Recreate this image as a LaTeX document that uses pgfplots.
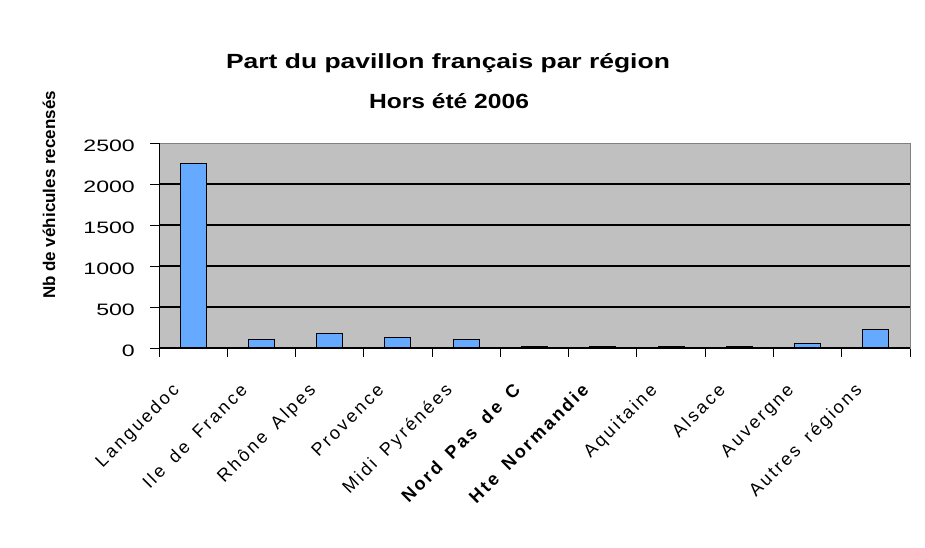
\documentclass[border=0pt]{standalone}
\usepackage{pgfplots}
\pgfplotsset{compat=1.18}
\usepackage{fontspec}
\setmainfont{Liberation Sans}
\newfontfamily\labelfont[LetterSpace=14,WordSpace=1.6]{Liberation Sans}
\definecolor{barblue}{RGB}{102,170,255}
\definecolor{plotbg}{RGB}{192,192,192}
\definecolor{frame}{RGB}{128,128,128}
\begin{document}
\begin{tikzpicture}
\path[use as bounding box] (0pt,0pt) rectangle (925pt,547pt);
\node[font=\bfseries\fontsize{20.5}{24}\selectfont] at (448pt,484pt) {\scalebox{1.29}[1]{Part du pavillon français par région}};
\node[font=\bfseries\fontsize{20.5}{24}\selectfont] at (449pt,446pt) {\scalebox{1.2}[1]{Hors été 2006}};
\node[font=\bfseries\fontsize{17}{20}\selectfont, rotate=90] at (49pt,352pt) {Nb de véhicules recensés};
\begin{axis}[
  at={(159pt,199pt)}, anchor=south west,
  width=751pt, height=205pt, scale only axis,
  xmin=0, xmax=11, ymin=0, ymax=2500,
  axis background/.style={fill=plotbg},
  axis line style={draw=frame, line width=1pt},
  xtick={0,1,2,3,4,5,6,7,8,9,10,11},
  x tick label as interval,
  xticklabels={Languedoc, Ile de France, Rhône Alpes, Provence, Midi Pyrénées, \bfseries Nord Pas de C, \bfseries Hte Normandie, Aquitaine, Alsace, Auvergne, Autres régions},
  xticklabel style={font=\labelfont\fontsize{18}{21}\selectfont, xshift=-13pt, yshift=-34pt, rotate=45, anchor=base east, inner sep=0pt},
  ytick={0,500,1000,1500,2000,2500},
  minor ytick={500,1000,1500,2000},
  yminorgrids, minor grid style={black, line width=1.2pt},
  tick pos=left, tick align=outside,
  major tick length=9pt, minor tick length=0pt,
  tick style={black, line width=1pt},
  yticklabel={\scalebox{1.4}[1]{\pgfmathprintnumber{\tick}}},
  yticklabel style={font=\fontsize{16.5}{20}\selectfont, anchor=east, inner sep=0pt, xshift=-15pt, yshift=-3pt},
  /pgf/number format/assume math mode=true,
  /pgf/number format/1000 sep={},
]
\addplot[ybar, bar width=26pt, bar shift=0pt, fill=barblue, draw=black, line width=1pt] coordinates {
(0.5,2250) (1.5,100) (2.5,173) (3.5,125) (4.5,100) (5.5,15) (6.5,15) (7.5,15) (8.5,15) (9.5,50) (10.5,220)
};
\draw[black, line width=1.2pt] (rel axis cs:0,1) -- (rel axis cs:0,0) -- (rel axis cs:1,0);
\end{axis}
\end{tikzpicture}
\end{document}
